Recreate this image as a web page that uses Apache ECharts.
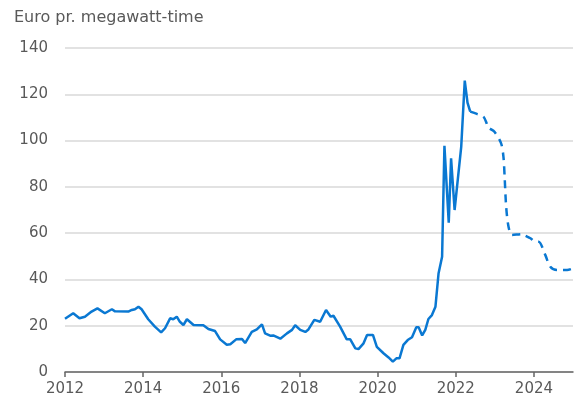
<!DOCTYPE html>
<html>
<head>
<meta charset="utf-8">
<script src="https://cdn.jsdelivr.net/npm/echarts@6/dist/echarts.min.js"></script>
<style>
  html, body { margin: 0; padding: 0; background: #fff; }
  #chart { width: 574px; height: 401px; }
</style>
</head>
<body>
<div id="chart"></div>
<script>
// historical prices (solid line), x in decimal years
const histYears = [
  2012.00, 2012.21, 2012.37, 2012.51, 2012.68, 2012.83, 2013.02, 2013.20, 2013.28, 2013.62,
  2013.71, 2013.79, 2013.88, 2013.96, 2014.13, 2014.30, 2014.46, 2014.56, 2014.69, 2014.77,
  2014.86, 2014.94, 2015.03, 2015.12, 2015.29, 2015.54, 2015.67, 2015.84, 2015.97, 2016.14,
  2016.23, 2016.38, 2016.53, 2016.61, 2016.78, 2016.91, 2017.04, 2017.12, 2017.25, 2017.33,
  2017.51, 2017.68, 2017.81, 2017.89, 2018.02, 2018.15, 2018.23, 2018.38, 2018.53, 2018.68,
  2018.80, 2018.87, 2019.04, 2019.21, 2019.30, 2019.43, 2019.51, 2019.64, 2019.73, 2019.88,
  2019.98, 2020.15, 2020.28, 2020.39, 2020.48, 2020.56, 2020.66, 2020.77, 2020.88, 2020.99,
  2021.05, 2021.14, 2021.22, 2021.30, 2021.39, 2021.48, 2021.56, 2021.65, 2021.71, 2021.82,
  2021.88, 2021.97, 2022.14, 2022.23, 2022.30, 2022.37
];
const histValues = [
  23.0, 25.4, 23.2, 23.9, 26.1, 27.5, 25.4, 27.1, 26.2, 26.1,
  26.8, 27.1, 28.2, 27.1, 22.8, 19.6, 17.1, 18.9, 23.2, 22.8,
  23.9, 21.7, 20.3, 22.8, 20.3, 20.2, 18.6, 17.7, 14.1, 11.8,
  12.0, 14.1, 14.3, 12.5, 17.3, 18.4, 20.6, 16.7, 15.7, 15.8,
  14.4, 16.7, 18.2, 20.2, 18.2, 17.3, 18.4, 22.5, 21.7, 26.8,
  23.9, 24.3, 19.6, 14.1, 14.1, 10.2, 9.9, 12.4, 16.0, 16.0,
  10.9, 8.1, 6.3, 4.5, 5.9, 5.9, 11.7, 13.8, 15.0, 19.3,
  19.3, 15.8, 18.2, 22.9, 24.6, 28.2, 42.7, 49.8, 97.7, 64.5,
  92.3, 70.0, 97.4, 125.9, 116.4, 112.5
];

// futures prices (dashed line)
const futYears = [
  2022.37, 2022.54, 2022.71, 2022.84, 2022.99, 2023.16, 2023.22, 2023.25, 2023.29, 2023.35,
  2023.44, 2023.70, 2023.78, 2023.91, 2024.04, 2024.12, 2024.29, 2024.42, 2024.59, 2024.85,
  2025.00
];
const futValues = [
  112.5, 111.5, 110.3, 105.7, 103.8, 98.8, 93.0, 84.4, 71.4, 62.8,
  59.2, 59.6, 58.9, 57.8, 56.3, 56.3, 50.6, 45.5, 44.1, 44.1,
  44.8
];

const xTicks = [2012, 2014, 2016, 2018, 2020, 2022, 2024];

const blue = "#0a78d2";
const textColor = "#595959";
const font = "DejaVu Sans";

const chart = echarts.init(document.getElementById("chart"), null, { renderer: "canvas" });

chart.setOption({
  animation: false,
  title: {
    text: "Euro pr. megawatt-time",
    left: 14,
    top: 10,
    padding: 0,
    textStyle: { color: textColor, fontSize: 16, fontWeight: "normal", fontFamily: font },
  },
  grid: { left: 65, right: 1, top: 48, bottom: 29, containLabel: false },
  xAxis: {
    type: "value",
    min: 2012,
    max: 2025,
    interval: 2,
    axisLine: { lineStyle: { color: "#666", width: 1.5 } },
    axisTick: { length: 5, lineStyle: { color: "#666", width: 1.5 }, customValues: xTicks },
    axisLabel: {
      customValues: xTicks,
      color: textColor,
      fontSize: 15,
      fontFamily: font,
      margin: 10,
      formatter: (v) => String(v),
    },
    splitLine: { show: false },
  },
  yAxis: {
    type: "value",
    min: 0,
    max: 140,
    interval: 20,
    axisLine: { show: false },
    axisTick: { show: false },
    axisLabel: { color: textColor, fontSize: 15, fontFamily: font, margin: 17 },
    splitLine: { lineStyle: { color: "#d9d9d9", width: 1.5 } },
  },
  series: [
    {
      type: "line",
      data: histYears.map((x, i) => [x, histValues[i]]),
      showSymbol: false,
      lineStyle: { color: blue, width: 2.5 },
    },
    {
      type: "line",
      data: futYears.map((x, i) => [x, futValues[i]]),
      showSymbol: false,
      smooth: 0.3,
      lineStyle: { color: blue, width: 2.5, type: [8, 6] },
    },
  ],
});
</script>
</body>
</html>
